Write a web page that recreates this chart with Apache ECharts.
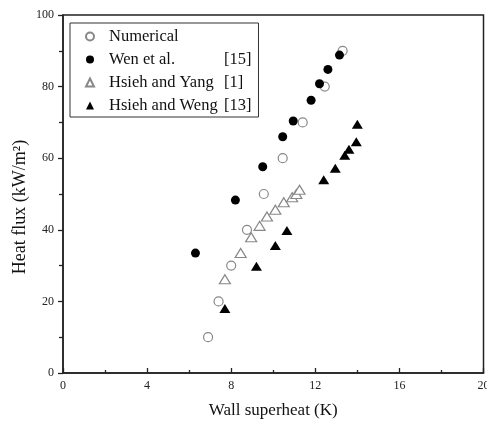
<!DOCTYPE html>
<html>
<head>
<meta charset="utf-8">
<script src="https://cdn.jsdelivr.net/npm/echarts@6/dist/echarts.min.js"></script>
<style>
html, body { margin: 0; padding: 0; background: #fff; }
#chart { width: 487px; height: 429px; }
</style>
</head>
<body>
<div id="chart"></div>
<script>
// data: [wall superheat K, heat flux kW/m2]
var numerical = [[6.9, 10], [7.4, 20], [8.0, 30], [8.75, 40], [9.55, 50], [10.45, 60], [11.4, 70], [12.45, 80], [13.3, 90]];
var wen = [[6.3, 33.5], [8.2, 48.3], [9.5, 57.6], [10.45, 66], [10.95, 70.4], [11.8, 76.2], [12.2, 80.8], [12.6, 84.8], [13.15, 88.8]];
var hsiehYang = [[7.7, 26.2], [8.45, 33.5], [8.95, 37.9], [9.35, 41.1], [9.7, 43.7], [10.1, 45.6], [10.5, 47.7], [10.9, 49.1], [11.1, 50], [11.25, 51.2]];
var hsiehWeng = [[7.7, 18], [9.2, 29.8], [10.1, 35.6], [10.65, 39.8], [12.4, 54], [12.95, 57.2], [13.4, 60.8], [13.6, 62.5], [13.95, 64.6], [14.0, 69.5]];
var seriesNames = ['Numerical', 'Wen et al.', 'Hsieh and Yang', 'Hsieh and Weng'];
var refs = {'Wen et al.': '[15]', 'Hsieh and Yang': '[1]', 'Hsieh and Weng': '[13]'};

var serif = 'Liberation Serif';
var chart = echarts.init(document.getElementById('chart'));

var option = {
    animation: false,
    grid: {
        left: 63,
        right: 3.5,
        top: 15,
        bottom: 56,
        outerBoundsMode: 'none',
        show: true,
        borderColor: '#222',
        borderWidth: 1.5
    },
    legend: {
        orient: 'vertical',
        left: 70,
        top: 23,
        padding: [5, 7, 3, 15],
        itemWidth: 8,
        itemHeight: 8,
        itemGap: 6,
        borderColor: '#333',
        borderWidth: 1,
        data: seriesNames,
        formatter: function (name) {
            if (refs[name]) return '{a|' + name + '}{b|' + refs[name] + '}';
            return '{a|' + name + '}';
        },
        textStyle: {
            fontFamily: serif,
            fontSize: 16.5,
            color: '#111',
            lineHeight: 16,
            rich: {
                a: { fontFamily: serif, fontSize: 16.5, color: '#111', width: 115, padding: [0, 0, 0, 10] },
                b: { fontFamily: serif, fontSize: 16.5, color: '#111' }
            }
        }
    },
    xAxis: {
        type: 'value',
        min: 0,
        max: 20,
        interval: 4,
        name: 'Wall superheat (K)',
        nameLocation: 'middle',
        nameGap: 29,
        nameTextStyle: { fontFamily: serif, fontSize: 17, color: '#111' },
        axisLine: { lineStyle: { color: '#222', width: 1.5 } },
        axisTick: { inside: true, length: 5, lineStyle: { color: '#222', width: 1.3 } },
        minorTick: { show: true, splitNumber: 2, length: 3, lineStyle: { color: '#222', width: 1.3 } },
        axisLabel: { fontFamily: serif, fontSize: 12, color: '#222', margin: 7 },
        splitLine: { show: false }
    },
    yAxis: {
        type: 'value',
        min: 0,
        max: 100,
        interval: 20,
        name: 'Heat flux (kW/m²)',
        nameLocation: 'middle',
        nameGap: 34,
        nameMoveOverlap: false,
        nameTextStyle: { fontFamily: serif, fontSize: 18, color: '#111', padding: [0, 26, 0, 0] },
        axisLine: { lineStyle: { color: '#222', width: 1.5 } },
        axisTick: { inside: false, length: 5, lineStyle: { color: '#222', width: 1.3 } },
        minorTick: { show: true, splitNumber: 2, length: 4, lineStyle: { color: '#222', width: 1.3 } },
        axisLabel: { fontFamily: serif, fontSize: 12, color: '#222', margin: 9 },
        splitLine: { show: false }
    },
    series: [
        {
            name: 'Numerical',
            type: 'scatter',
            data: numerical,
            symbol: 'circle',
            symbolSize: 9,
            itemStyle: { color: '#fff', borderColor: '#888', borderWidth: 1.2, opacity: 1 }
        },
        {
            name: 'Wen et al.',
            type: 'scatter',
            data: wen,
            symbol: 'circle',
            symbolSize: 9,
            itemStyle: { color: '#000', opacity: 1 }
        },
        {
            name: 'Hsieh and Yang',
            type: 'scatter',
            data: hsiehYang,
            symbol: 'triangle',
            symbolSize: [11, 9],
            itemStyle: { color: '#fff', borderColor: '#888', borderWidth: 1.2, opacity: 1 }
        },
        {
            name: 'Hsieh and Weng',
            type: 'scatter',
            data: hsiehWeng,
            symbol: 'triangle',
            symbolSize: [11, 9],
            itemStyle: { color: '#000', opacity: 1 }
        }
    ]
};
chart.setOption(option);
window.addEventListener('resize', function () {
    chart.resize();
});
</script>
</body>
</html>
